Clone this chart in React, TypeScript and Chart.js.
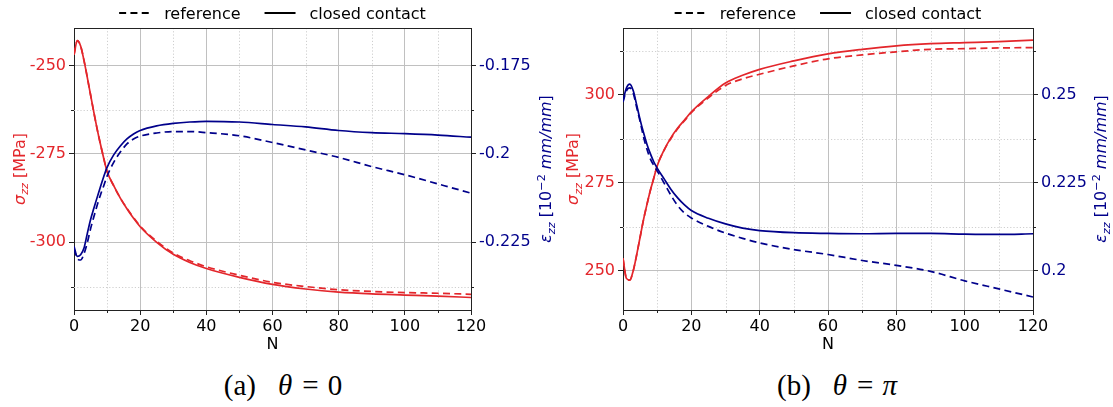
import React, { useEffect, useRef } from 'react';
import { Chart, registerables } from 'chart.js';

Chart.register(...registerables);

// ---------------- data ----------------
const N = [0, 1, 2, 3, 4, 5, 6, 7, 8, 9, 10, 12, 14, 16, 18, 20, 25, 30, 35, 40, 50, 60, 70, 80, 90, 100, 110, 120];

// (a) theta = 0
const sigmaClosed0 = [-247.0, -243.0, -244.5, -248.5, -253.3, -258.3, -263.3, -268.0, -272.3, -276.3, -280.0, -284.0, -287.5, -290.5, -293.2, -295.6, -300.0, -303.4, -305.7, -307.4, -309.9, -311.9, -313.2, -314.1, -314.6, -314.9, -315.2, -315.6];
const sigmaRef0 = [-247.0, -243.0, -244.5, -248.5, -253.3, -258.3, -263.3, -268.0, -272.3, -276.3, -280.0, -284.0, -287.5, -290.4, -293.0, -295.4, -299.7, -303.0, -305.2, -306.9, -309.3, -311.3, -312.5, -313.4, -313.9, -314.2, -314.4, -314.7];
const epsClosed0 = [-0.2261, -0.2290, -0.2285, -0.2267, -0.2226, -0.2186, -0.2154, -0.2123, -0.2093, -0.2064, -0.2038, -0.2003, -0.1978, -0.1958, -0.1944, -0.1934, -0.1921, -0.1914, -0.1910, -0.1908, -0.1910, -0.1917, -0.1924, -0.1934, -0.1940, -0.1943, -0.1947, -0.1953];
const epsRef0 = [-0.2268, -0.2296, -0.2300, -0.2283, -0.2252, -0.2212, -0.2178, -0.2145, -0.2116, -0.2090, -0.2063, -0.2024, -0.1995, -0.1972, -0.1958, -0.1950, -0.1941, -0.1937, -0.1937, -0.1940, -0.1949, -0.1968, -0.1989, -0.2010, -0.2036, -0.2059, -0.2085, -0.2111];

// (b) theta = pi
const sigmaClosedPi = [253.5, 247.8, 247.3, 250.0, 254.5, 259.5, 264.5, 268.8, 272.8, 276.3, 279.8, 284.3, 287.8, 290.6, 292.9, 295.2, 299.6, 303.4, 305.6, 307.3, 309.7, 311.7, 313.0, 314.0, 314.6, 314.9, 315.2, 315.6];
const sigmaRefPi = [253.5, 247.8, 247.3, 250.0, 254.5, 259.5, 264.5, 268.8, 272.8, 276.3, 279.8, 284.2, 287.6, 290.4, 292.7, 295.0, 299.2, 302.7, 304.6, 305.9, 308.3, 310.3, 311.4, 312.3, 313.0, 313.2, 313.4, 313.5];
const epsClosedPi = [0.2484, 0.2520, 0.2531, 0.2512, 0.2472, 0.2430, 0.2393, 0.2360, 0.2333, 0.2310, 0.2292, 0.2262, 0.2232, 0.2207, 0.2187, 0.2171, 0.2149, 0.2133, 0.2121, 0.2114, 0.2108, 0.2106, 0.2105, 0.2106, 0.2106, 0.2104, 0.2103, 0.2105];
const epsRefPi = [0.2480, 0.2512, 0.2520, 0.2505, 0.2465, 0.2425, 0.2381, 0.2346, 0.2318, 0.2300, 0.2284, 0.2250, 0.2215, 0.2185, 0.2164, 0.2150, 0.2126, 0.2107, 0.2092, 0.2079, 0.2060, 0.2046, 0.2029, 0.2015, 0.1998, 0.1971, 0.1948, 0.1925];

// ticks
const X_MINOR = [10, 30, 50, 70, 90, 110];
const Y_MINOR_0 = [-262.5, -312.5];
const Y_MINOR_PI = [312.5, 287.5, 262.5];
const LEGEND_LABELS = ['reference', 'closed contact'];
const X_TITLE = 'N';

// ---------------- style ----------------
const RED = '#e3262b';
const BLUE = '#00008b';
const FRAME = '#222222';
const GRID = '#c0c0c0';
const MINOR_GRID = '#cfcfcf';
const FAMILY = "'DejaVu Sans'";
const FS = 16;
const H = 360;
const PLOT_TOP = 28;
const PLOT_BOTTOM = 310;
const DASH = [7, 4.3];

const fmt = (v: number) => String(Number(Number(v).toFixed(4)));

type PanelCfg = {
  left: number;
  width: number;
  plotLeft: number;
  plotRight: number;
  sigmaClosed: number[];
  sigmaRef: number[];
  epsClosed: number[];
  epsRef: number[];
  yL: [number, number];
  yR: [number, number];
  yLStep: number;
  yRStep: number;
  yMinor: number[];
  sigmaTitleX: number;
  epsTitleX: number;
};

function pts(arr: number[]) {
  return N.map((n, i) => ({ x: n, y: arr[i] }));
}

function drawRich(ctx: CanvasRenderingContext2D, parts: { text: string; font: string; dy?: number }[], bx: number, cy: number, color: string) {
  ctx.save();
  ctx.translate(bx, cy);
  ctx.rotate(-Math.PI / 2);
  let total = 0;
  const widths: number[] = [];
  for (const p of parts) {
    ctx.font = p.font;
    const w = ctx.measureText(p.text).width;
    widths.push(w);
    total += w;
  }
  let x = -total / 2;
  ctx.fillStyle = color;
  ctx.textBaseline = 'alphabetic';
  ctx.textAlign = 'left';
  parts.forEach((p, i) => {
    ctx.font = p.font;
    ctx.fillText(p.text, x, p.dy || 0);
    x += widths[i];
  });
  ctx.restore();
}

function makePlugin(cfg: PanelCfg) {
  return {
    id: 'decor',
    beforeDatasetsDraw(chart: any) {
      const { ctx, chartArea: a, scales } = chart;
      const xs = scales.x;
      const yl = scales.yL;
      ctx.save();
      // minor dotted grid
      ctx.strokeStyle = MINOR_GRID;
      ctx.lineWidth = 1;
      ctx.setLineDash([1.2, 2]);
      for (const v of X_MINOR) {
        const px = Math.round(xs.getPixelForValue(v)) + 0.5;
        ctx.beginPath();
        ctx.moveTo(px, a.top);
        ctx.lineTo(px, a.bottom);
        ctx.stroke();
      }
      for (const v of cfg.yMinor) {
        const py = Math.round(yl.getPixelForValue(v)) + 0.5;
        ctx.beginPath();
        ctx.moveTo(a.left, py);
        ctx.lineTo(a.right, py);
        ctx.stroke();
      }
      ctx.setLineDash([]);
      // minor ticks
      ctx.strokeStyle = FRAME;
      ctx.lineWidth = 1;
      for (const v of X_MINOR) {
        const px = Math.round(xs.getPixelForValue(v)) + 0.5;
        ctx.beginPath();
        ctx.moveTo(px, a.bottom);
        ctx.lineTo(px, a.bottom + 3);
        ctx.stroke();
      }
      for (const v of cfg.yMinor) {
        const py = Math.round(yl.getPixelForValue(v)) + 0.5;
        ctx.beginPath();
        ctx.moveTo(a.left - 3, py);
        ctx.lineTo(a.left, py);
        ctx.moveTo(a.right, py);
        ctx.lineTo(a.right + 3, py);
        ctx.stroke();
      }
      // top spine
      ctx.beginPath();
      ctx.moveTo(a.left, Math.round(a.top) + 0.5);
      ctx.lineTo(a.right + 1, Math.round(a.top) + 0.5);
      ctx.stroke();
      ctx.restore();
    },
    afterDraw(chart: any) {
      const { ctx, chartArea: a } = chart;
      ctx.save();
      // legend
      const font = `${FS}px ${FAMILY}`;
      ctx.font = font;
      const w1 = ctx.measureText(LEGEND_LABELS[0]).width;
      const w2 = ctx.measureText(LEGEND_LABELS[1]).width;
      const handle = 31, pad = 14, gap = 24;
      const total = handle * 2 + pad * 2 + gap + w1 + w2;
      const cx = (a.left + a.right) / 2;
      let x = cx - total / 2;
      const ly = 13;
      const tb = 18.5;
      ctx.strokeStyle = '#000';
      ctx.lineWidth = 2;
      ctx.setLineDash(DASH);
      ctx.beginPath();
      ctx.moveTo(x, ly);
      ctx.lineTo(x + handle, ly);
      ctx.stroke();
      ctx.setLineDash([]);
      x += handle + pad;
      ctx.fillStyle = '#000';
      ctx.textBaseline = 'alphabetic';
      ctx.fillText(LEGEND_LABELS[0], x, tb);
      x += w1 + gap;
      ctx.beginPath();
      ctx.moveTo(x, ly);
      ctx.lineTo(x + handle, ly);
      ctx.stroke();
      x += handle + pad;
      ctx.fillText(LEGEND_LABELS[1], x, tb);
      ctx.restore();

      const cy = (a.top + a.bottom) / 2;
      const it = `italic ${FS}px ${FAMILY}`;
      const itS = `italic ${FS * 0.7}px ${FAMILY}`;
      const rg = `${FS}px ${FAMILY}`;
      const rgS = `${FS * 0.7}px ${FAMILY}`;
      drawRich(ctx, [
        { text: 'σ', font: it },
        { text: 'zz', font: itS, dy: 3.5 },
        { text: ' [MPa]', font: rg },
      ], cfg.sigmaTitleX, cy, RED);
      drawRich(ctx, [
        { text: 'ε', font: it },
        { text: 'zz', font: itS, dy: 3.5 },
        { text: ' [10', font: rg },
        { text: '−2', font: rgS, dy: -6.5 },
        { text: ' ', font: rg },
        { text: 'mm/mm', font: it },
        { text: ']', font: rg },
      ], cfg.epsTitleX, cy, BLUE);
    },
  };
}

function Panel({ cfg }: { cfg: PanelCfg }) {
  const ref = useRef<HTMLCanvasElement>(null);
  useEffect(() => {
    const font = { family: FAMILY, size: FS };
    const ds = (arr: number[], color: string, dashed: boolean, axis: string) => ({
      data: pts(arr),
      borderColor: color,
      backgroundColor: color,
      borderWidth: 1.7,
      borderDash: dashed ? DASH : [],
      pointRadius: 0,
      fill: false,
      cubicInterpolationMode: 'monotone' as const,
      yAxisID: axis,
    });
    const chart = new Chart(ref.current as HTMLCanvasElement, {
      type: 'line',
      data: {
        datasets: [
          ds(cfg.epsClosed, BLUE, false, 'yR'),
          ds(cfg.epsRef, BLUE, true, 'yR'),
          ds(cfg.sigmaClosed, RED, false, 'yL'),
          ds(cfg.sigmaRef, RED, true, 'yL'),
        ] as any,
      },
      options: {
        responsive: false,
        animation: false,
        devicePixelRatio: 1,
        events: [],
        layout: { padding: { top: PLOT_TOP, left: 0, right: 0, bottom: 0 } },
        plugins: { legend: { display: false }, tooltip: { enabled: false } },
        scales: {
          x: {
            type: 'linear',
            position: 'bottom',
            min: 0,
            max: 120,
            ticks: { stepSize: 20, color: '#000', font, padding: 2, maxRotation: 0, autoSkip: false, callback: (v: any) => fmt(v) },
            grid: { color: GRID, lineWidth: 1, tickLength: 5, tickColor: FRAME, tickWidth: 1 },
            border: { color: FRAME, width: 1 },
            title: { display: true, text: X_TITLE, color: '#000', font, padding: { top: 0, bottom: 6 } },
            afterFit: (s: any) => { s.height = H - PLOT_BOTTOM; },
          },
          yL: {
            type: 'linear',
            position: 'left',
            min: cfg.yL[0],
            max: cfg.yL[1],
            ticks: { stepSize: cfg.yLStep, includeBounds: false, color: RED, font, padding: 3, callback: (v: any) => fmt(v) },
            grid: { color: GRID, lineWidth: 1, tickLength: 5, tickColor: FRAME, tickWidth: 1 },
            border: { color: FRAME, width: 1 },
            afterFit: (s: any) => { s.width = cfg.plotLeft; },
          },
          yR: {
            type: 'linear',
            position: 'right',
            min: cfg.yR[0],
            max: cfg.yR[1],
            ticks: { stepSize: cfg.yRStep, includeBounds: false, color: BLUE, font, padding: 3, callback: (v: any) => fmt(v) },
            grid: { drawOnChartArea: false, tickLength: 5, tickColor: FRAME, tickWidth: 1 },
            border: { color: FRAME, width: 1 },
            afterFit: (s: any) => { s.width = cfg.width - cfg.plotRight; },
          },
        },
      } as any,
      plugins: [makePlugin(cfg)],
    });
    return () => chart.destroy();
  }, [cfg]);
  return (
    <canvas
      ref={ref}
      width={cfg.width}
      height={H}
      style={{ position: 'absolute', left: cfg.left, top: 0, width: cfg.width, height: H }}
    />
  );
}

const PANEL_A: PanelCfg = {
  left: 0,
  width: 556,
  plotLeft: 74,
  plotRight: 471,
  sigmaClosed: sigmaClosed0,
  sigmaRef: sigmaRef0,
  epsClosed: epsClosed0,
  epsRef: epsRef0,
  yL: [-319.13, -239.43],
  yR: [-0.24413, -0.16443],
  yLStep: 25,
  yRStep: 0.025,
  yMinor: Y_MINOR_0,
  sigmaTitleX: 24.5,
  epsTitleX: 551,
};

const PANEL_B: PanelCfg = {
  left: 556,
  width: 557,
  plotLeft: 67,
  plotRight: 477,
  sigmaClosed: sigmaClosedPi,
  sigmaRef: sigmaRefPi,
  epsClosed: epsClosedPi,
  epsRef: epsRefPi,
  yL: [238.8, 319.07],
  yR: [0.1888, 0.26907],
  yLStep: 25,
  yRStep: 0.025,
  yMinor: Y_MINOR_PI,
  sigmaTitleX: 22,
  epsTitleX: 550,
};

function Caption({ center, label, value }: { center: number; label: string; value: string }) {
  const sp = (w: number) => <span style={{ display: 'inline-block', width: w }} />;
  return (
    <div
      style={{
        position: 'absolute',
        left: center - 150,
        top: 371,
        width: 300,
        textAlign: 'center',
        fontFamily: "'Liberation Serif', serif",
        fontSize: 29,
        lineHeight: '29px',
        color: '#000',
        whiteSpace: 'pre',
      }}
    >
      <span>{label}</span>
      {sp(22)}
      <span style={{ fontStyle: 'italic' }}>θ</span>
      {sp(10)}
      <span>=</span>
      {sp(9)}
      <span style={{ fontStyle: value === 'π' ? 'italic' : 'normal' }}>{value}</span>
    </div>
  );
}

export default function App() {
  return (
    <div style={{ position: 'absolute', left: 0, top: 0, width: 1113, height: 407, background: '#fff', overflow: 'hidden' }}>
      <Panel cfg={PANEL_A} />
      <Panel cfg={PANEL_B} />
      <Caption center={283} label="(a)" value="0" />
      <Caption center={837} label="(b)" value="π" />
    </div>
  );
}
